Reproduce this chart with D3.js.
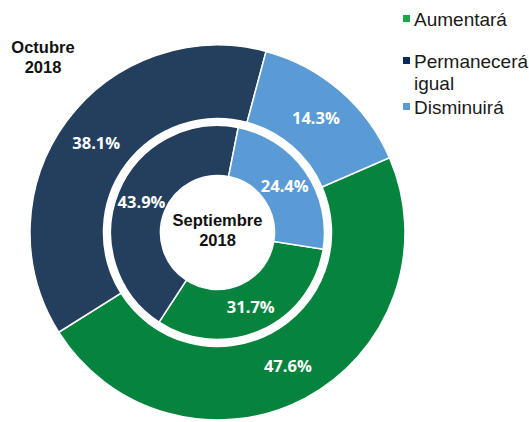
<!DOCTYPE html>
<html><head><meta charset="utf-8">
<script src="https://cdn.jsdelivr.net/npm/d3@7"></script>
<style>body{margin:0;background:#fff}svg{display:block}</style>
</head><body><svg id="c" width="529" height="422"></svg>
<script>
const categories = ["Aumentará", "Permanecerá igual", "Disminuirá"];
const outerValues = [47.6, 38.1, 14.3];   // Octubre 2018
const innerValues = [31.7, 43.9, 24.4];   // Septiembre 2018
const outerLabel = ["Octubre", "2018"];
const innerLabel = ["Septiembre", "2018"];
const sliceColors = ["#06843e", "#243f5e", "#5b9bd5"];
const legendColors = ["#1aa64d", "#0b2a5c", "#5b9bd5"];
const legendLines = [["Aumentará"], ["Permanecerá", "igual"], ["Disminuirá"]];

const svg = d3.select("#c");
const cx = 217.5, cy = 232.5;
const g = svg.append("g").attr("transform", `translate(${cx},${cy})`);
const deg = Math.PI / 180;

function ring(values, r0, r1, start) {
  const pie = d3.pie().sort(null).value(d => d)
    .startAngle(start * deg).endAngle((start + 360) * deg);
  const arcs = pie(values);
  const arc = d3.arc().innerRadius(r0).outerRadius(r1);
  const grp = g.append("g");
  grp.selectAll("path").data(arcs).join("path")
    .attr("d", arc)
    .attr("fill", (d, i) => sliceColors[i])
    .attr("stroke", "#fff").attr("stroke-width", 1.5);
  grp.selectAll("text").data(arcs).join("text")
    .attr("transform", d => `translate(${arc.centroid(d)})`)
    .attr("text-anchor", "middle").attr("dy", "0.36em")
    .attr("fill", "#fff")
    .style("font-family", "'Open Sans', sans-serif")
    .style("font-weight", "bold").style("font-size", "16.5px")
    .text(d => d.data.toFixed(1) + "%");
}
ring(outerValues, 114, 187.5, 66.5);
ring(innerValues, 57, 107, 99);

// centre label
const tc = g.append("text").attr("text-anchor", "middle")
  .style("font-family", "'Liberation Sans', Arial, sans-serif")
  .style("font-weight", "bold").style("font-size", "16.5px").attr("fill", "#111");
innerLabel.forEach((t, i) => tc.append("tspan").attr("x", 0).attr("y", -6.5 + i * 20).text(t));

// Octubre label
const to = svg.append("text").attr("text-anchor", "middle")
  .style("font-family", "'Liberation Sans', Arial, sans-serif")
  .style("font-weight", "bold").style("font-size", "16.5px").attr("fill", "#111");
outerLabel.forEach((t, i) => to.append("tspan").attr("x", 43).attr("y", 53 + i * 20).text(t));

// legend
const legendY = [26, 68, 114];
const lg = svg.append("g");
categories.forEach((c, i) => {
  lg.append("rect").attr("x", 403).attr("y", legendY[i] - 11).attr("width", 7).attr("height", 7)
    .attr("fill", legendColors[i]);
  const t = lg.append("text").attr("x", 414).attr("y", legendY[i])
    .style("font-family", "'Liberation Sans', Arial, sans-serif")
    .style("font-size", "19px").attr("fill", "#1a1a1a");
  legendLines[i].forEach((l, j) => t.append("tspan").attr("x", 414).attr("y", legendY[i] + j * 22).text(l));
});
</script></body></html>
